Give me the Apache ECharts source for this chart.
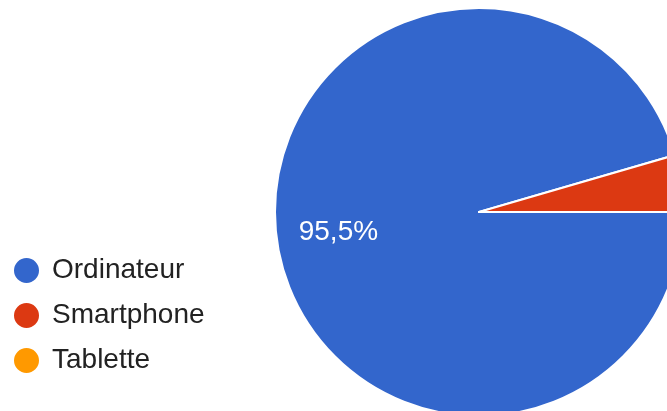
<!DOCTYPE html>
<html>
<head>
<meta charset="utf-8">
<script src="https://cdn.jsdelivr.net/npm/echarts@6/dist/echarts.min.js"></script>
<style>
html,body{margin:0;padding:0;background:#fff;}
#chart{width:667px;height:411px;}
</style>
</head>
<body>
<div id="chart"></div>
<script>
var categories = ['Ordinateur', 'Smartphone', 'Tablette'];
var values = [95.5, 4.5, 0];
var colors = ['#3366cc', '#dc3912', '#ff9900'];

var pieData = categories.map(function (c, i) {
  return { name: c, value: values[i], itemStyle: { color: colors[i] } };
});
var labelData = categories.map(function (c, i) {
  return { name: c, value: values[i] };
});

var chart = echarts.init(document.getElementById('chart'), null, { renderer: 'canvas' });
chart.setOption({
  animation: false,
  backgroundColor: '#ffffff',
  legend: {
    orient: 'vertical',
    left: 12,
    top: 256,
    padding: 0,
    icon: 'circle',
    itemWidth: 27,
    itemHeight: 27,
    itemGap: 16,
    data: categories,
    selectedMode: false,
    textStyle: {
      fontFamily: 'Liberation Sans, Arial, sans-serif',
      fontSize: 28,
      color: '#222222',
      lineHeight: 27,
      padding: [0, 0, 0, 7]
    }
  },
  series: [
    {
      type: 'pie',
      center: [479, 212],
      radius: [0, 204],
      startAngle: 0,
      clockwise: true,
      silent: true,
      label: { show: false },
      labelLine: { show: false },
      itemStyle: { borderColor: '#ffffff', borderWidth: 2 },
      data: pieData
    },
    {
      type: 'pie',
      center: [479, 212],
      radius: [74, 204],
      startAngle: 0,
      clockwise: true,
      silent: true,
      itemStyle: { color: 'rgba(0,0,0,0)', borderWidth: 0 },
      labelLine: { show: false },
      label: {
        show: true,
        position: 'inside',
        color: '#ffffff',
        fontFamily: 'Liberation Sans, Arial, sans-serif',
        fontSize: 28,
        formatter: function (p) {
          if (p.percent < 6) return '';
          return p.percent.toFixed(1).replace('.', ',') + '%';
        }
      },
      data: labelData
    }
  ]
});
</script>
</body>
</html>
